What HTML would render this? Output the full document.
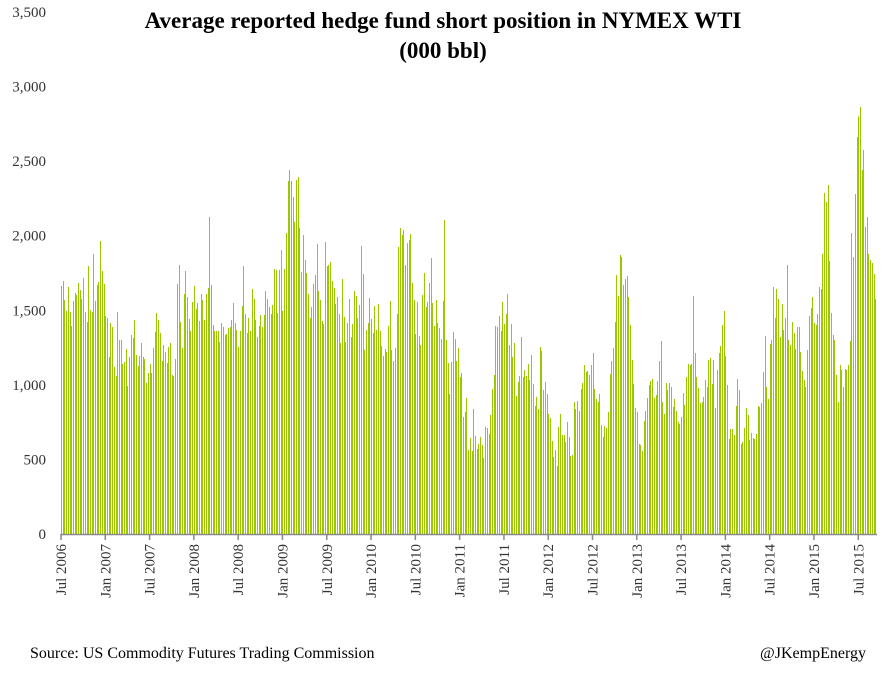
<!DOCTYPE html>
<html><head><meta charset="utf-8"><style>
body{margin:0;background:#fff;width:887px;height:686px;overflow:hidden;font-family:"Liberation Serif",serif}
</style></head><body>
<svg id="chart" width="887" height="686" xmlns="http://www.w3.org/2000/svg" font-family="Liberation Serif, serif">
<text x="443" y="28" text-anchor="middle" font-size="23" font-weight="bold" fill="#000">Average reported hedge fund short position in NYMEX WTI</text>
<text x="443" y="58" text-anchor="middle" font-size="23" font-weight="bold" fill="#000">(000 bbl)</text>
<g id="yaxis"></g>
<g id="bars" shape-rendering="crispEdges"></g>
<g id="xaxis"></g>
<text x="30" y="658" font-size="16" fill="#000">Source: US Commodity Futures Trading Commission</text>
<text x="866" y="658" text-anchor="end" font-size="16" fill="#000">@JKempEnergy</text>
</svg>
<script>
const values = [
1662,1696,1568,1495,1655,1488,1394,1562,1615,1602,1682,1635,1575,1716,1488,1421,1796,1501,1488,1877,1562,1669,1689,1964,1763,1675,1461,1448,1186,1414,1387,1119,1059,1488,1300,1300,1139,1153,1240,992,1186,1334,1314,1434,1200,1126,1193,1280,1186,1173,1012,1079,1139,1079,1247,1354,1481,1434,1347,1159,1267,1220,1146,1253,1280,1066,1059,1173,1675,1803,1421,1247,1608,1763,1588,1441,1360,1555,1662,
1508,1548,1427,1608,1568,1434,1608,1649,2124,1669,1401,1360,1360,1360,1287,1414,1387,1334,1340,1381,1387,1434,1548,1414,1367,1253,1360,1528,1796,1474,1347,1448,1360,1642,1575,1434,1320,1394,1468,1387,1468,1629,1575,1521,1474,1535,1776,1769,1481,1769,1903,1495,1776,2017,2366,2440,2366,2259,2091,2373,2393,2051,1756,2004,1836,1749,1608,1448,1521,1675,1736,1944,1629,1568,1427,1407,1957,1796,1803,1823,
1696,1649,1541,1588,1474,1280,1709,1454,1287,1414,1575,1320,1407,1629,1595,1448,1535,1930,1743,1233,1367,1414,1582,1441,1347,1528,1367,1541,1360,1260,1193,1240,1220,1394,1562,1233,1159,1247,1474,1923,2051,2004,2037,1803,1950,1970,2011,1682,1568,1340,1555,1327,1267,1602,1749,1521,1555,1682,1850,1548,1394,1568,1414,1381,1307,1562,2104,1300,1146,938,1153,1354,1307,1159,1247,1052,1079,784,818,
911,563,643,556,838,657,570,603,650,596,509,717,710,670,798,972,1066,1394,1387,1461,1360,1555,1407,1474,1608,1267,1407,1186,1280,925,1019,1059,1320,1052,1099,1059,1139,1032,1200,1005,858,918,838,1253,1226,965,1019,938,804,777,623,516,563,456,717,804,663,663,617,751,650,523,529,885,838,891,824,972,1012,1133,1086,1092,1066,1133,1213,972,905,885,938,730,
650,724,710,818,1072,1159,1247,1421,1736,1595,1870,1856,1669,1709,1729,1588,1401,1166,1005,844,818,603,596,556,757,824,911,999,1025,1039,911,932,1025,1159,1293,885,804,1012,965,1012,985,851,905,824,751,737,784,945,865,1052,1139,1133,1139,1595,1213,1052,978,878,885,918,1032,985,1166,1180,1005,1166,844,1099,1213,1260,1401,1495,1193,999,637,704,704,663,
858,1039,965,603,617,710,844,798,630,677,643,637,670,858,851,878,1086,1327,985,905,1273,1300,1655,1448,1642,1575,1320,1541,1367,1448,1803,1300,1267,1421,1347,1240,1387,1387,1220,1092,1032,985,1233,1461,1515,1588,1414,1401,1474,1655,1642,1877,2285,2225,2339,1830,1481,1334,1300,1066,885,1133,1099,985,1106,1099,1133,1293,2017,1856,2279,2661,2801,2862,2440,2574,2057,2125,1877,1836,1816,1743,1575
];
const xLabels = ["Jul 2006","Jan 2007","Jul 2007","Jan 2008","Jul 2008","Jan 2009","Jul 2009","Jan 2010","Jul 2010","Jan 2011","Jul 2011","Jan 2012","Jul 2012","Jan 2013","Jul 2013","Jan 2014","Jul 2014","Jan 2015","Jul 2015"];
const yTicks = [0,500,1000,1500,2000,2500,3000,3500];
const yTickLabels = ["0","500","1,000","1,500","2,000","2,500","3,000","3,500"];
const labelEvery = 26;

const NS="http://www.w3.org/2000/svg";
const x0=61, x1=877, yBase=534, yTop=12, yMax=3500;
const step=(x1-x0)/values.length;
const yScale=v=>yBase-(v/yMax)*(yBase-yTop);
const xScale=i=>x0+i*step;
function mk(tag,attrs){const e=document.createElementNS(NS,tag);for(const k in attrs)e.setAttribute(k,attrs[k]);return e;}

const yg=document.getElementById('yaxis');
yTicks.forEach((t,i)=>{
  const tx=mk('text',{x:46,y:yScale(t)+5,'text-anchor':'end','font-size':15,fill:'#333'});
  
  
  tx.textContent=yTickLabels[i];yg.appendChild(tx);
});

const bg=document.getElementById('bars');
values.forEach((v,i)=>{
  const r=mk('rect',{x:Math.round(xScale(i)),y:yScale(v),width:1,height:yBase-yScale(v),fill:'#99c800'});
  
  
  bg.appendChild(r);
});

const xg=document.getElementById('xaxis');
const ax=mk('line',{x1:x0,y1:yBase+0.5,x2:x1,y2:yBase+0.5,stroke:'#888','stroke-width':1.5});


xg.appendChild(ax);
xLabels.forEach((lab,i)=>{
  const x=xScale(i*labelEvery);
  const tk=mk('line',{x1:x,y1:yBase,x2:x,y2:yBase+6,stroke:'#888','stroke-width':1.5});
  
  
  xg.appendChild(tk);
  const tx=mk('text',{x:0,y:0,'text-anchor':'end','font-size':15,fill:'#333',transform:`translate(${x+5},${yBase+10}) rotate(-90)`});
  
  
  tx.textContent=lab;xg.appendChild(tx);
});
</script>
</body></html>
